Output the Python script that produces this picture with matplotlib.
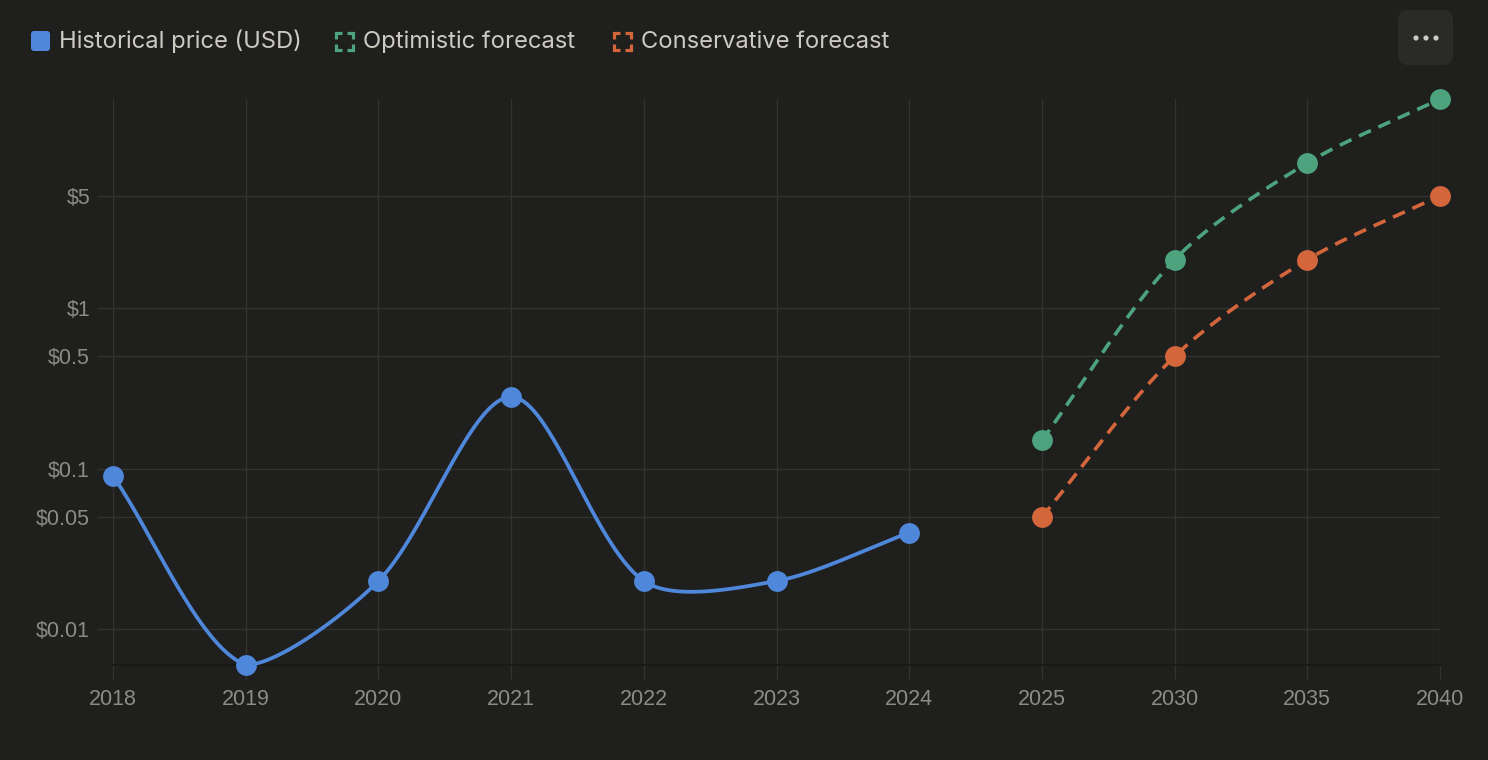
import numpy as np
import matplotlib
matplotlib.use("Agg")
import matplotlib.pyplot as plt
from matplotlib.patches import FancyBboxPatch, Circle
from matplotlib.lines import Line2D
from matplotlib.transforms import IdentityTransform

# ---------------- data ----------------
categories = ["2018", "2019", "2020", "2021", "2022", "2023", "2024",
              "2025", "2030", "2035", "2040"]
historical = [0.09, 0.006, 0.02, 0.28, 0.02, 0.02, 0.04,
              None, None, None, None]
optimistic = [None, None, None, None, None, None, None,
              0.15, 2.0, 8.0, 20.0]
conservative = [None, None, None, None, None, None, None,
                0.05, 0.5, 2.0, 5.0]
y_ticks = [0.01, 0.05, 0.1, 0.5, 1, 5]
y_tick_labels = ["\\$0.01", "\\$0.05", "\\$0.1", "\\$0.5", "\\$1", "\\$5"]
series_names = ["Historical price (USD)", "Optimistic forecast", "Conservative forecast"]

# ---------------- style ----------------
W, H = 1488, 760
BG = "#1f1f1e"
GRID = "#333332"
AXIS = "#191918"
TICK_TXT = "#8c8b87"
LEG_TXT = "#cdcac3"
BLUE = "#4f87da"
GREEN = "#4ca37d"
ORANGE = "#d4663c"
TENSION = 0.3

fig = plt.figure(figsize=(W / 100, H / 100), dpi=100, facecolor=BG)
left, right, top, bottom = 113, 1440, 99, 665
ax = fig.add_axes([left / W, 1 - bottom / H, (right - left) / W, (bottom - top) / H])
ax.set_facecolor(BG)
ax.set_yscale("log")
ax.set_xlim(0, len(categories) - 1)
ax.set_ylim(0.006, 20)

ax.set_xticks(range(len(categories)))
ax.set_xticklabels(categories)
ax.set_yticks(y_ticks)
ax.set_yticklabels(y_tick_labels)
ax.yaxis.set_minor_locator(matplotlib.ticker.NullLocator())

for s in ["top", "right", "left"]:
    ax.spines[s].set_visible(False)
ax.spines["bottom"].set_color(AXIS)
ax.spines["bottom"].set_linewidth(1.4)

ax.grid(True, color=GRID, linewidth=1.0)
ax.set_axisbelow(True)
ax.tick_params(axis="y", length=11.5, width=0.9, color=GRID, pad=5,
               labelcolor=TICK_TXT, labelsize=15.5)
ax.tick_params(axis="x", length=10.5, width=0.9, color=GRID, pad=6.5,
               labelcolor=TICK_TXT, labelsize=15.5)
for lab in ax.get_xticklabels() + ax.get_yticklabels():
    lab.set_family(["Liberation Sans", "DejaVu Sans"])


def spline(xs, ys):
    """Chart.js style spline (tension) computed in display space."""
    pts = ax.transData.transform(np.column_stack([xs, ys]))
    bb = ax.bbox
    n = len(pts)
    cp1 = np.zeros_like(pts)
    cp2 = np.zeros_like(pts)
    for i in range(n):
        p = pts[max(i - 1, 0)]
        c = pts[i]
        q = pts[min(i + 1, n - 1)]
        d01 = np.hypot(*(c - p))
        d12 = np.hypot(*(q - c))
        tot = d01 + d12
        s01 = d01 / tot if tot else 0
        s12 = d12 / tot if tot else 0
        fa, fb = TENSION * s01, TENSION * s12
        cp1[i] = c - fa * (q - p)
        cp2[i] = c + fb * (q - p)
    for arr in (cp1, cp2):
        arr[:, 0] = np.clip(arr[:, 0], bb.x0, bb.x1)
        arr[:, 1] = np.clip(arr[:, 1], bb.y0, bb.y1)
    out = [pts[0]]
    t = np.linspace(0, 1, 80)[1:, None]
    for i in range(n - 1):
        P0, P1, P2, P3 = pts[i], cp2[i], cp1[i + 1], pts[i + 1]
        seg = ((1 - t) ** 3) * P0 + 3 * ((1 - t) ** 2) * t * P1 + 3 * (1 - t) * t ** 2 * P2 + t ** 3 * P3
        out.extend(seg)
    out = np.array(out)
    data = ax.transData.inverted().transform(out)
    return data[:, 0], data[:, 1]


def draw(values, color, dashed):
    idx = [i for i, v in enumerate(values) if v is not None]
    xs = np.array(idx, dtype=float)
    ys = np.array([values[i] for i in idx], dtype=float)
    sx, sy = spline(xs, ys)
    if dashed:
        ax.plot(sx, sy, color=color, lw=2.6, linestyle=(0, (3.6, 2.3)),
                solid_capstyle="butt", dash_capstyle="butt", clip_on=False, zorder=3)
    else:
        ax.plot(sx, sy, color=color, lw=2.7, solid_capstyle="round", clip_on=False, zorder=3)
    ax.plot(xs, ys, linestyle="none", marker="o", markersize=15, color=color,
            markeredgewidth=0, clip_on=False, zorder=4)


draw(historical, BLUE, False)
draw(optimistic, GREEN, True)
draw(conservative, ORANGE, True)

# ---------------- legend (custom, figure pixels) ----------------
idt = IdentityTransform()


def fy(y):
    return H - y


# blue rounded square
fig.add_artist(FancyBboxPatch((31, fy(51)), 19, 20, boxstyle="round,pad=0,rounding_size=3",
                              transform=idt, facecolor=BLUE, edgecolor="none"))


def bracket_box(x0, y0, size, color):
    arm = 6.5
    lw = 2.3
    x1, y1 = x0 + size, y0 + size
    for (cx, cy, dx, dy) in [(x0, y0, 1, 1), (x1, y0, -1, 1), (x0, y1, 1, -1), (x1, y1, -1, -1)]:
        xs = [cx + dx * arm, cx, cx]
        ys = [fy(cy), fy(cy), fy(cy + dy * arm)]
        fig.add_artist(Line2D(xs, ys, transform=idt, color=color, lw=lw,
                              solid_joinstyle="miter", solid_capstyle="butt"))


bracket_box(335.5, 32.5, 17.5, GREEN)
bracket_box(613.5, 32.5, 17.5, ORANGE)

leg_font = dict(fontsize=17.1, color=LEG_TXT, va="center", ha="left",
                family=["Inter", "DejaVu Sans"], transform=idt)
fig.text(59, fy(41.5), series_names[0], **leg_font)
fig.text(363, fy(41.5), series_names[1], **leg_font)
fig.text(641, fy(41.5), series_names[2], **leg_font)

# "..." menu button
fig.add_artist(FancyBboxPatch((1398, fy(65)), 55, 55, boxstyle="round,pad=0,rounding_size=10",
                              transform=idt, facecolor="#2a2a29", edgecolor="none"))
for dx in (1416, 1426, 1436):
    fig.add_artist(Circle((dx, fy(38)), 2.6, transform=idt, facecolor=LEG_TXT, edgecolor="none"))

fig.savefig("out.png", dpi=100, facecolor=BG)
